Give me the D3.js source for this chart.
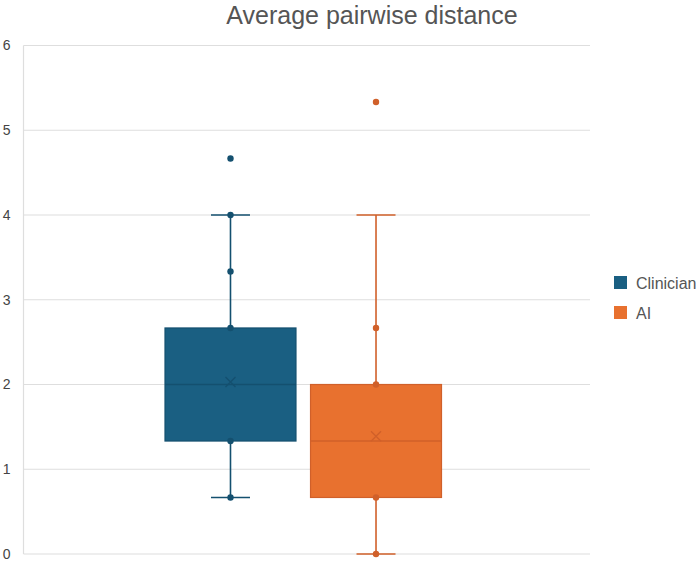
<!DOCTYPE html>
<html>
<head>
<meta charset="utf-8">
<script src="https://cdn.jsdelivr.net/npm/d3@7"></script>
<style>
  body { margin: 0; background: #fff; }
  text { font-family: "Liberation Sans", Arial, sans-serif; }
</style>
</head>
<body>
<svg id="chart" width="700" height="563"></svg>
<script>
// data
var seriesNames = ["Clinician", "AI"];
var seriesColors = ["#1a5f82", "#e8712f"];
var darkColors = ["#14506f", "#d0602a"];
var q1Values = [1.333, 0.667];
var medianValues = [2.0, 1.333];
var q3Values = [2.667, 2.0];
var meanValues = [2.03, 1.39];
var whiskerLow = [0.667, 0.0];
var whiskerHigh = [4.0, 4.0];
var pointValues = [
  [4.667, 4.0, 3.333, 2.667, 1.333, 0.667],
  [5.333, 2.667, 2.0, 0.667, 0.0]
];
var yTicks = [0, 1, 2, 3, 4, 5, 6];

var svg = d3.select("#chart");
var plotLeft = 23.5, plotRight = 590, plotTop = 45.5, plotBottom = 554;

var y = d3.scaleLinear().domain([0, 6]).range([plotBottom, plotTop]);
var x = d3.scaleBand().domain(seriesNames).range([165, 441.5])
  .paddingInner(0.1).paddingOuter(0);

// title
svg.append("text")
  .attr("x", 372).attr("y", 24)
  .attr("text-anchor", "middle")
  .style("font-size", "25px")
  .style("fill", "#555")
  .text("Average pairwise distance");

// grid
svg.append("g").selectAll("line")
  .data(yTicks).enter().append("line")
  .attr("x1", plotLeft).attr("x2", plotRight)
  .attr("y1", function(d) { return y(d); })
  .attr("y2", function(d) { return y(d); })
  .style("stroke", "#dedede")
  .style("stroke-width", 1.2);

svg.append("line")
  .attr("x1", plotLeft).attr("x2", plotLeft)
  .attr("y1", plotTop).attr("y2", plotBottom)
  .style("stroke", "#dedede")
  .style("stroke-width", 1.2);

var yAxis = d3.axisLeft(y).tickValues(yTicks).tickSize(0).tickPadding(13)
  .tickFormat(d3.format("d"));
var ax = svg.append("g").attr("transform", "translate(" + plotLeft + ",0)").call(yAxis);
ax.select(".domain").remove();
ax.selectAll("text")
  .style("font-size", "14px")
  .style("fill", "#444")
  .style("font-family", "'Liberation Sans', Arial, sans-serif");

// boxes
var bw = x.bandwidth();
var capW = 39;

seriesNames.forEach(function(name, i) {
  var g = svg.append("g");
  var cx = x(name) + bw / 2;
  var col = seriesColors[i], dark = darkColors[i];

  // whiskers
  g.append("line")
    .attr("x1", cx).attr("x2", cx)
    .attr("y1", y(whiskerHigh[i])).attr("y2", y(q3Values[i]))
    .style("stroke", dark).style("stroke-width", 1.6);
  g.append("line")
    .attr("x1", cx).attr("x2", cx)
    .attr("y1", y(q1Values[i])).attr("y2", y(whiskerLow[i]))
    .style("stroke", dark).style("stroke-width", 1.6);
  [whiskerHigh[i], whiskerLow[i]].forEach(function(v) {
    g.append("line")
      .attr("x1", cx - capW / 2).attr("x2", cx + capW / 2)
      .attr("y1", y(v)).attr("y2", y(v))
      .style("stroke", dark).style("stroke-width", 1.6);
  });

  // box
  g.append("rect")
    .attr("x", x(name)).attr("width", bw)
    .attr("y", y(q3Values[i]))
    .attr("height", y(q1Values[i]) - y(q3Values[i]))
    .style("fill", col)
    .style("stroke", dark).style("stroke-width", 1.2);

  g.append("line")
    .attr("x1", x(name)).attr("x2", x(name) + bw)
    .attr("y1", y(medianValues[i])).attr("y2", y(medianValues[i]))
    .style("stroke", dark).style("stroke-width", 1.5);

  // mean X
  var my = y(meanValues[i]), s = 5;
  g.append("path")
    .attr("d", "M" + (cx - s) + "," + (my - s) + "L" + (cx + s) + "," + (my + s) +
               "M" + (cx - s) + "," + (my + s) + "L" + (cx + s) + "," + (my - s))
    .style("stroke", dark).style("stroke-width", 1.3).style("fill", "none");

  // points
  g.selectAll("circle").data(pointValues[i]).enter().append("circle")
    .attr("cx", cx)
    .attr("cy", function(d) { return y(d); })
    .attr("r", 3.2)
    .style("fill", dark);
});

// legend
var lg = svg.append("g").attr("transform", "translate(614,276)");
seriesNames.forEach(function(name, i) {
  lg.append("rect")
    .attr("x", 0).attr("y", i * 30)
    .attr("width", 13).attr("height", 13)
    .style("fill", seriesColors[i]);
  lg.append("text")
    .attr("x", 22).attr("y", i * 30 + 12.5)
    .style("font-size", "16px")
    .style("fill", "#555")
    .text(name);
});
</script>
</body>
</html>
